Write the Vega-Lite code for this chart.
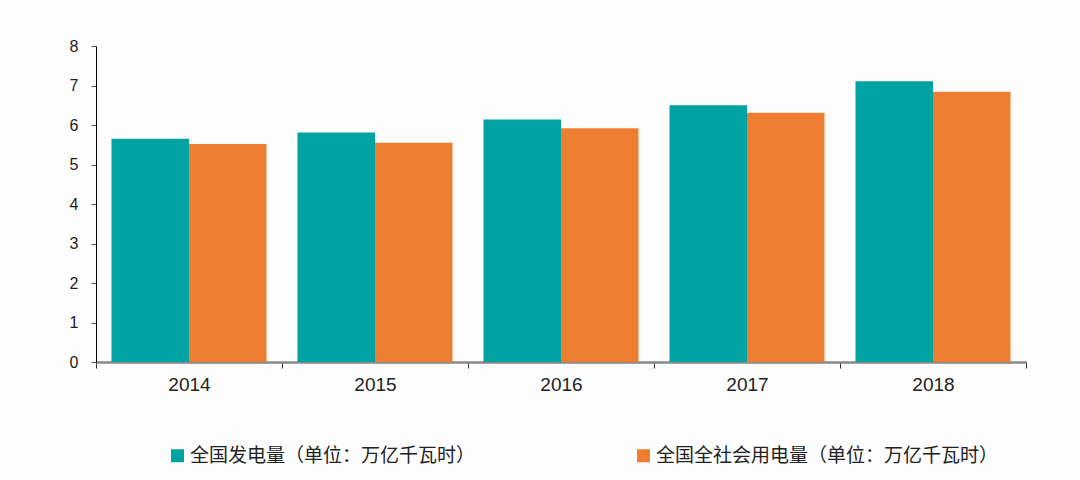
{
  "$schema": "https://vega.github.io/schema/vega-lite/v6.json",
  "autosize": {"type": "none"},
  "padding": {"left": 96, "top": 46, "right": 54, "bottom": 118},
  "width": 930,
  "height": 316,
  "background": "#fdfdfd",
  "config": {"view": {"stroke": null}},
  "data": {
    "values": [
      {"year": "2014", "series": "全国发电量（单位：万亿千瓦时）", "value": 5.65},
      {"year": "2014", "series": "全国全社会用电量（单位：万亿千瓦时）", "value": 5.52},
      {"year": "2015", "series": "全国发电量（单位：万亿千瓦时）", "value": 5.81},
      {"year": "2015", "series": "全国全社会用电量（单位：万亿千瓦时）", "value": 5.55},
      {"year": "2016", "series": "全国发电量（单位：万亿千瓦时）", "value": 6.14},
      {"year": "2016", "series": "全国全社会用电量（单位：万亿千瓦时）", "value": 5.92},
      {"year": "2017", "series": "全国发电量（单位：万亿千瓦时）", "value": 6.50},
      {"year": "2017", "series": "全国全社会用电量（单位：万亿千瓦时）", "value": 6.31},
      {"year": "2018", "series": "全国发电量（单位：万亿千瓦时）", "value": 7.11},
      {"year": "2018", "series": "全国全社会用电量（单位：万亿千瓦时）", "value": 6.84}
    ]
  },
  "mark": {"type": "bar"},
  "encoding": {
    "x": {
      "field": "year",
      "type": "nominal",
      "scale": {"paddingInner": 0, "paddingOuter": 0},
      "axis": {
        "title": null,
        "labelAngle": 0,
        "labelFont": "Liberation Sans",
        "labelFontSize": 19,
        "labelColor": "#222222",
        "labelPadding": 7,
        "tickBand": "extent",
        "tickSize": 6,
        "tickColor": "#333333",
        "domainColor": "#888888",
        "domainWidth": 2.5,
        "grid": false
      }
    },
    "xOffset": {
      "field": "series",
      "type": "nominal",
      "sort": ["全国发电量（单位：万亿千瓦时）", "全国全社会用电量（单位：万亿千瓦时）"],
      "scale": {"paddingInner": 0, "paddingOuter": 0.2}
    },
    "y": {
      "field": "value",
      "type": "quantitative",
      "scale": {"domain": [0, 8]},
      "axis": {
        "title": null,
        "values": [0, 1, 2, 3, 4, 5, 6, 7, 8],
        "grid": false,
        "labelFont": "Liberation Sans",
        "labelFontSize": 16,
        "labelColor": "#222222",
        "labelPadding": 13,
        "tickSize": 5,
        "tickColor": "#555555",
        "domainColor": "#000000",
        "domainWidth": 1
      }
    },
    "color": {
      "field": "series",
      "type": "nominal",
      "sort": ["全国发电量（单位：万亿千瓦时）", "全国全社会用电量（单位：万亿千瓦时）"],
      "scale": {
        "domain": ["全国发电量（单位：万亿千瓦时）", "全国全社会用电量（单位：万亿千瓦时）"],
        "range": ["#00A3A1", "#ED7D31"]
      },
      "legend": {
        "title": null,
        "orient": "none",
        "direction": "horizontal",
        "columns": 2,
        "legendX": 72,
        "legendY": 400,
        "columnPadding": 158,
        "symbolType": "square",
        "symbolSize": 169,
        "symbolStrokeWidth": 0,
        "labelFont": "Noto Sans CJK SC",
        "labelFontSize": 19,
        "labelColor": "#222222",
        "labelOffset": 3,
        "labelLimit": 500
      }
    }
  }
}
